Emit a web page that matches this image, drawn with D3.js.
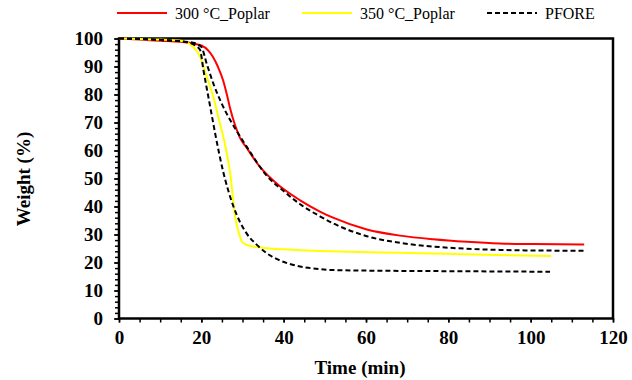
<!DOCTYPE html>
<html>
<head>
<meta charset="utf-8">
<script src="https://cdn.jsdelivr.net/npm/d3@7"></script>
<style>
  body { margin: 0; background: #fff; }
  svg text { font-family: "Liberation Serif", "Times New Roman", serif; }
</style>
</head>
<body>
<div id="chart"></div>
<script>
// Weight loss curves (time in min, weight in %)
const time300 = [0, 5, 10, 15, 18, 20, 21.5, 22.8, 24, 25.3, 26.2, 27, 28.2, 29.4, 31, 34.2, 39.1, 44, 48.8, 52, 60.2, 68.3, 76.3, 84.5, 92.5, 100.6, 113];
const weight300 = [100, 99.6, 99.2, 98.8, 98.2, 97.5, 96, 93.5, 90, 85, 80, 75, 69, 64.5, 61, 54.2, 47.2, 42.2, 38.2, 36, 31.8, 29.6, 28.3, 27.4, 26.8, 26.6, 26.4];

const time350 = [0, 5, 10, 15, 18, 19.7, 21.3, 22.9, 24.5, 25.7, 27, 28.2, 29.4, 29.8, 31, 33, 35.9, 40, 44, 48.8, 56, 68.3, 80, 92, 105];
const weight350 = [100, 99.8, 99.6, 99.2, 97, 93.5, 86.4, 79.2, 69.7, 62.5, 51.9, 36.4, 29.2, 27.6, 26.3, 25.6, 25.1, 24.7, 24.4, 24.1, 23.8, 23.5, 23.1, 22.7, 22.3];

const timePforeA = [0, 10, 18, 20, 21.3, 22.9, 24.9, 27, 29, 31, 35.9, 40, 44, 48.8, 52, 60.2, 68.3, 76.3, 84.5, 92.5, 100, 113];
const weightPforeA = [100, 99.5, 98.5, 97, 91, 84, 76.9, 70.9, 66, 61.4, 51, 45.5, 40.8, 36.5, 34, 29.4, 27, 25.7, 24.9, 24.5, 24.3, 24.2];

const timePforeB = [0, 10, 17, 18.5, 19.7, 20.5, 21.7, 22.9, 23.5, 25.3, 27.8, 31, 33.5, 35.9, 39, 42.4, 46, 52, 60, 68.3, 80, 92, 104.7];
const weightPforeB = [100, 99.5, 98.5, 97.5, 95.9, 88.8, 79.2, 69.7, 65, 52.5, 40, 30.4, 26.3, 23.3, 20.8, 19.1, 18.1, 17.3, 17.1, 17, 16.9, 16.8, 16.7];

const legendNames = ["300 °C_Poplar", "350 °C_Poplar", "PFORE"];
const xTicks = [0, 20, 40, 60, 80, 100, 120];
const yTicks = [0, 10, 20, 30, 40, 50, 60, 70, 80, 90, 100];

const width = 632, height = 380;
const serif = "'Liberation Serif', 'Times New Roman', serif";

// Series table built from the arrays above
const zip = (t, w) => t.map((d, i) => ({t: d, w: w[i]}));
const series = [
    {color: "#ff0000", dash: null, points: zip(time300, weight300)},
    {color: "#ffff00", dash: null, points: zip(time350, weight350)},
    {color: "#000000", dash: "5,3", points: zip(timePforeA, weightPforeA)},
    {color: "#000000", dash: "5,3", points: zip(timePforeB, weightPforeB)}
];
const legendKeys = [
    {name: legendNames[0], color: "#ff0000", dash: null, x: 117},
    {name: legendNames[1], color: "#ffff00", dash: null, x: 302},
    {name: legendNames[2], color: "#000000", dash: "5,3", x: 487}
];

const x = d3.scaleLinear([0, 120], [119, 613]);
const y = d3.scaleLinear([0, 100], [318.5, 38.5]);

const svg = d3.select("#chart").append("svg")
    .attr("width", width)
    .attr("height", height)
    .attr("viewBox", [0, 0, width, height]);

// --- Legend ---
const legend = svg.append("g")
    .selectAll("g")
    .data(legendKeys)
    .join("g")
    .attr("transform", d => `translate(${d.x},13)`);

legend.append("line")
    .attr("x1", 0)
    .attr("x2", 50)
    .attr("stroke", d => d.color)
    .attr("stroke-width", 2)
    .attr("stroke-dasharray", d => d.dash);

legend.append("text")
    .attr("x", 58)
    .attr("dy", "0.35em")
    .style("font-family", serif)
    .attr("font-size", 16)
    .text(d => d.name);

// --- Minor ticks ---
svg.append("g")
    .attr("transform", `translate(0,${y(0)})`)
    .call(d3.axisBottom(x).ticks(30).tickSize(4).tickFormat(""))
    .call(g => g.select(".domain").remove())
    .call(g => g.selectAll("line").attr("stroke-width", 1.5));

svg.append("g")
    .attr("transform", `translate(${x(0)},0)`)
    .call(d3.axisLeft(y).ticks(50).tickSize(4).tickFormat(""))
    .call(g => g.select(".domain").remove())
    .call(g => g.selectAll("line").attr("stroke-width", 1.5));

// --- Major axes ---
svg.append("g")
    .attr("transform", `translate(0,${y(0)})`)
    .attr("font-family", serif)
    .call(d3.axisBottom(x).tickValues(xTicks).tickSize(4).tickPadding(8))
    .call(g => g.select(".domain").remove())
    .call(g => g.selectAll("line").attr("stroke-width", 1.5))
    .call(g => g.selectAll("text")
        .style("font-family", serif)
        .style("font-size", "19px")
        .style("font-weight", "bold"));

svg.append("g")
    .attr("transform", `translate(${x(0)},0)`)
    .call(d3.axisLeft(y).tickValues(yTicks).tickSize(5).tickPadding(11))
    .call(g => g.select(".domain").remove())
    .call(g => g.selectAll("line").attr("stroke-width", 1.5))
    .call(g => g.selectAll("text")
        .style("font-family", serif)
        .style("font-size", "19px")
        .style("font-weight", "bold"));

// Plot frame
svg.append("rect")
    .attr("x", x(0))
    .attr("y", y(100))
    .attr("width", x(120) - x(0))
    .attr("height", y(0) - y(100))
    .attr("fill", "none")
    .attr("stroke", "#000")
    .attr("stroke-width", 2.5);

// --- Curves ---
const line = d3.line()
    .x(d => x(d.t))
    .y(d => y(d.w))
    .curve(d3.curveMonotoneX);

svg.append("g")
    .attr("fill", "none")
    .selectAll("path")
    .data(series)
    .join("path")
    .attr("stroke", d => d.color)
    .attr("stroke-width", 2)
    .attr("stroke-dasharray", d => d.dash)
    .attr("d", d => line(d.points));

// --- Axis titles ---
svg.append("text")
    .attr("x", 360)
    .attr("y", 374)
    .attr("text-anchor", "middle")
    .style("font-family", serif)
    .style("font-size", "19px")
    .style("font-weight", "bold")
    .text("Time (min)");

svg.append("text")
    .attr("transform", "translate(30,179) rotate(-90)")
    .attr("text-anchor", "middle")
    .style("font-family", serif)
    .style("font-size", "19px")
    .style("font-weight", "bold")
    .text("Weight (%)");
</script>
</body>
</html>
